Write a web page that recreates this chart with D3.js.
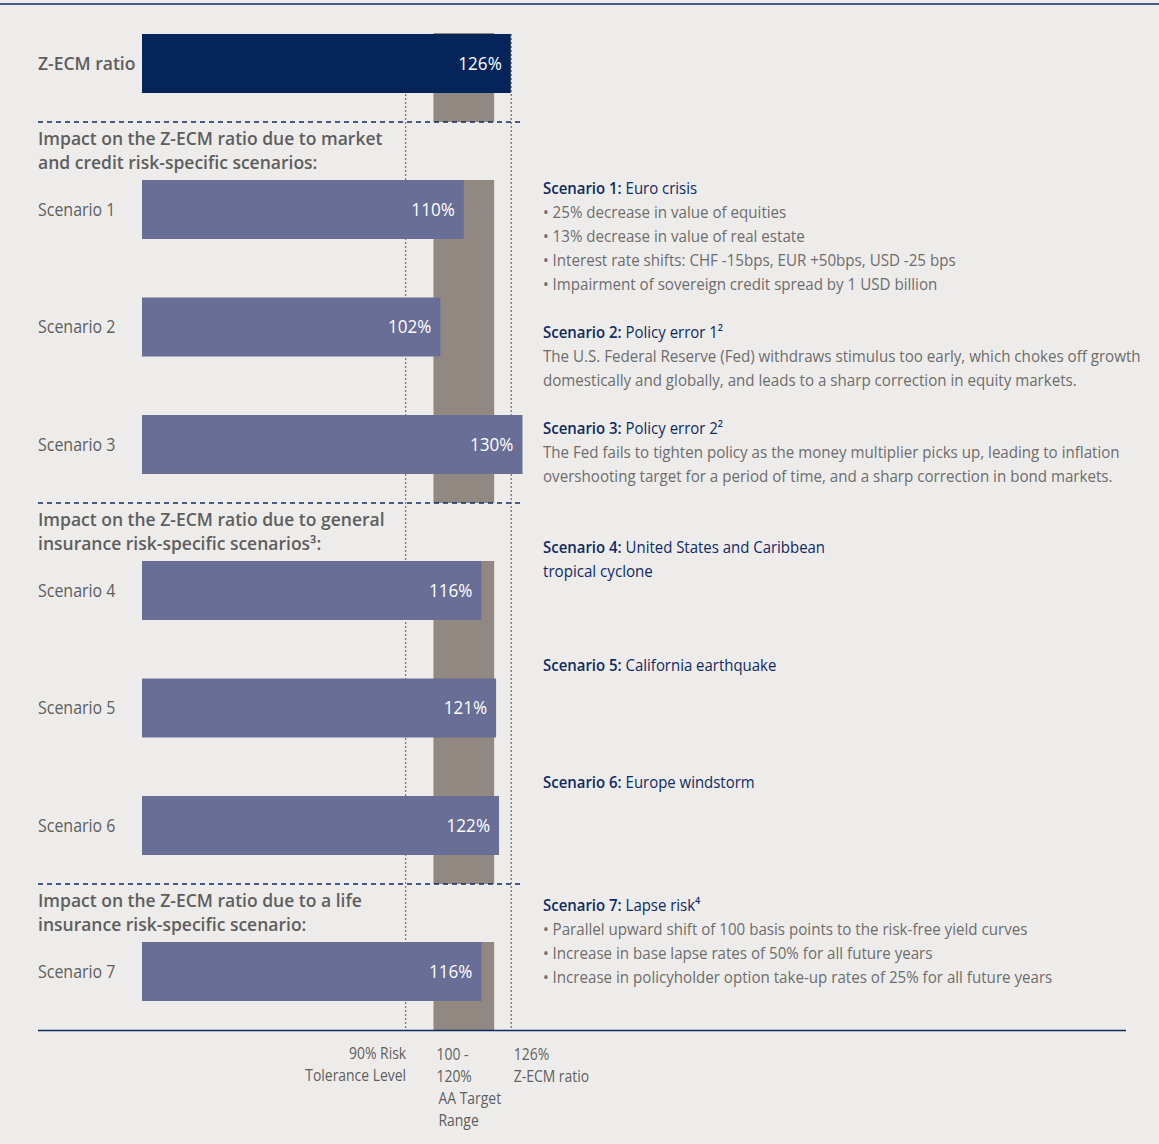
<!DOCTYPE html>
<html>
<head>
<meta charset="utf-8">
<script src="https://cdn.jsdelivr.net/npm/d3@7"></script>
<style>
  body { margin: 0; background: #edecea; }
  svg { display: block; font-family: "Open Sans", "Noto Sans", sans-serif; }
</style>
</head>
<body>
<div id="chart"></div>
<script>
// chart values
const barLabels = ['Z-ECM ratio', 'Scenario 1', 'Scenario 2', 'Scenario 3', 'Scenario 4', 'Scenario 5', 'Scenario 6', 'Scenario 7'];
const barValues = [126, 110, 102, 130, 116, 121, 122, 116];
const barGroups = [0, 1, 1, 1, 2, 2, 2, 3];

const groupHeaders = [
  null,
  ['Impact on the Z-ECM ratio due to market', 'and credit risk-specific scenarios:'],
  ['Impact on the Z-ECM ratio due to general', 'insurance risk-specific scenarios\u00B3:'],
  ['Impact on the Z-ECM ratio due to a life', 'insurance risk-specific scenario:']
];

const descTitles = ['Euro crisis', 'Policy error 1\u00B2', 'Policy error 2\u00B2', 'United States and Caribbean',
  'California earthquake', 'Europe windstorm', 'Lapse risk\u2074'];
const descLines = [
  ['\u2022 25% decrease in value of equities', '\u2022 13% decrease in value of real estate',
   '\u2022 Interest rate shifts: CHF -15bps, EUR +50bps, USD -25 bps', '\u2022 Impairment of sovereign credit spread by 1 USD billion'],
  ['The U.S. Federal Reserve (Fed) withdraws stimulus too early, which chokes off growth',
   'domestically and globally, and leads to a sharp correction in equity markets.'],
  ['The Fed fails to tighten policy as the money multiplier picks up, leading to inflation',
   'overshooting target for a period of time, and a sharp correction in bond markets.'],
  ['tropical cyclone'],
  [],
  [],
  ['\u2022 Parallel upward shift of 100 basis points to the risk-free yield curves',
   '\u2022 Increase in base lapse rates of 50% for all future years',
   '\u2022 Increase in policyholder option take-up rates of 25% for all future years']
];
const descTitleColored = [false, false, false, true, false, false, false]; // continuation lines in navy

const toleranceLevel = 90;
const targetRange = [100, 120];
const currentRatio = 126;
const toleranceLabel = ['90% Risk', 'Tolerance Level'];
const targetLabel = ['100 -', '120%', 'AA Target', 'Range'];
const ratioLabel = ['126%', 'Z-ECM ratio'];

// layout
const width = 1159, height = 1144;
const navy = '#0f2a63', barNavy = '#05245a', barPurple = '#686e95', band = '#918882';
const textGray = '#5e5e5e', descGray = '#6d6d6d';
const barH = 59, barStep = 117.5;

const svg = d3.select('#chart').append('svg')
  .attr('width', width)
  .attr('height', height);

svg.append('rect').attr('width', width).attr('height', height).attr('fill', '#edecea');

const x = d3.scaleLinear().domain([0, 130]).range([141, 522.5]);

// helper: condensed text (the original face is narrower than anything installed)
function addText(parent, px, py, parts, o) {
  const t = parent.append('text')
    .attr('transform', `translate(${px},${py}) scale(${o.sx || 1},1)`)
    .attr('font-size', o.size)
    .attr('text-anchor', o.anchor || 'start');
  parts.forEach(p => {
    t.append('tspan')
      .attr('font-weight', p.bold ? (o.boldWeight || 700) : 400)
      .attr('fill', p.fill || o.fill)
      .text(p.text);
  });
  return t;
}

// work out vertical positions group by group
const groups = d3.range(groupHeaders.length).map(g => {
  return { id: g, header: groupHeaders[g], bars: barLabels.filter((d, i) => barGroups[i] === g) };
});

let cursor = 34;
groups.forEach(grp => {
  if (grp.header) {
    grp.headerY = cursor + 23;
    cursor = cursor + 58;
  }
  const n = grp.bars.length;
  grp.y = d3.scaleBand()
    .domain(grp.bars)
    .range([cursor, cursor + (n - 1) * barStep + barH])
    .paddingInner(n > 1 ? (barStep - barH) / barStep : 0)
    .paddingOuter(0);
  grp.top = cursor;
  grp.bottom = cursor + (n - 1) * barStep + barH + 29;
  cursor = grp.bottom;
});
const yOf = label => groups[barGroups[barLabels.indexOf(label)]].y(label);
const axisY = groups[groups.length - 1].bottom;

const plot = svg.append('g');

// target range band
plot.selectAll('.band')
  .data(groups)
  .enter().append('rect')
    .attr('class', 'band')
    .attr('x', x(targetRange[0]) - 1)
    .attr('width', x(targetRange[1]) - x(targetRange[0]) + 2)
    .attr('y', d => d.top - (d.id === 0 ? 1 : 0))
    .attr('height', d => d.bottom - d.top + (d.id === 0 ? 1 : 0))
    .attr('fill', band);

// tolerance and current ratio lines
plot.selectAll('.ref')
  .data([toleranceLevel, currentRatio])
  .enter().append('line')
    .attr('class', 'ref')
    .attr('x1', d => x(d) + 0.5).attr('x2', d => x(d) + 0.5)
    .attr('y1', groups[0].top)
    .attr('y2', axisY)
    .attr('stroke', '#777')
    .attr('stroke-width', 1.3)
    .attr('stroke-dasharray', '2,2');

// bars
plot.selectAll('.bar')
  .data(barLabels)
  .enter().append('rect')
    .attr('class', 'bar')
    .attr('x', x(0) + 1)
    .attr('y', d => yOf(d))
    .attr('width', (d, i) => x(barValues[i]) - x(0) - 1)
    .attr('height', d => groups[barGroups[barLabels.indexOf(d)]].y.bandwidth())
    .attr('fill', (d, i) => i === 0 ? barNavy : barPurple);

// value labels and row labels
barLabels.forEach((d, i) => {
  const bw = groups[barGroups[i]].y.bandwidth();
  addText(plot, x(barValues[i]) - 9, yOf(d) + bw / 2 + 6, [{ text: barValues[i] + '%' }],
    { size: 18, sx: 0.95, fill: '#fff', anchor: 'end' });
  addText(plot, 38, yOf(d) + bw / 2 + 6, [{ text: d, bold: i === 0 }],
    i === 0 ? { size: 17.5, sx: 1, fill: textGray, boldWeight: 600 } : { size: 19, sx: 0.84, fill: textGray });
});

// group headers
groups.filter(g => g.header).forEach(g => {
  g.header.forEach((line, li) => {
    addText(plot, 38, g.headerY + li * 24, [{ text: line, bold: true }],
      { size: 17.5, sx: 1, fill: textGray, boldWeight: 600 });
  });
});

// dividers
groups.slice(0, -1).forEach(g => {
  plot.append('line')
    .attr('x1', 38).attr('x2', 523)
    .attr('y1', g.bottom).attr('y2', g.bottom)
    .attr('stroke', navy)
    .attr('stroke-width', 1.5)
    .attr('stroke-dasharray', '5,4');
});

// axis line and top rule
svg.append('line').attr('x1', 38).attr('x2', 1126).attr('y1', axisY + 0.5).attr('y2', axisY + 0.5)
  .attr('stroke', navy).attr('stroke-width', 1.5);
svg.append('line').attr('x1', 0).attr('x2', width).attr('y1', 4).attr('y2', 4)
  .attr('stroke', navy).attr('stroke-width', 1.5);

// scenario descriptions on the right
const descStart = { 1: 14, 2: -8, 3: -31 };
let flowY = 0, lastGroup = -1;
descTitles.forEach((title, k) => {
  const label = barLabels[k + 1];
  const g = barGroups[k + 1];
  const barTop = yOf(label);
  let yy;
  if (g !== lastGroup) { yy = barTop + descStart[g]; lastGroup = g; }
  else yy = Math.max(flowY, barTop - 8);
  addText(svg, 543, yy, [{ text: label + ':', bold: true, fill: navy }, { text: ' ' + title, fill: navy }],
    { size: 17, sx: 0.88, fill: navy, boldWeight: 600 });
  descLines[k].forEach((line, li) => {
    addText(svg, 543, yy + (li + 1) * 24, [{ text: line }],
      { size: 17, sx: 0.89, fill: descTitleColored[k] ? navy : descGray });
  });
  flowY = yy + descLines[k].length * 24 + 48;
});

// labels under the axis
toleranceLabel.forEach((t, i) => addText(svg, x(toleranceLevel) + 1, axisY + 29 + i * 22, [{ text: t }],
  { size: 17, sx: 0.82, fill: textGray, anchor: 'end' }));
targetLabel.forEach((t, i) => addText(svg, x(targetRange[0]) + (i < 2 ? 2 : 4), axisY + 30 + i * 22, [{ text: t }],
  { size: 17, sx: 0.82, fill: textGray }));
ratioLabel.forEach((t, i) => addText(svg, x(currentRatio) + 3, axisY + 30 + i * 22, [{ text: t }],
  { size: 17, sx: 0.82, fill: textGray }));
</script>
</body>
</html>
